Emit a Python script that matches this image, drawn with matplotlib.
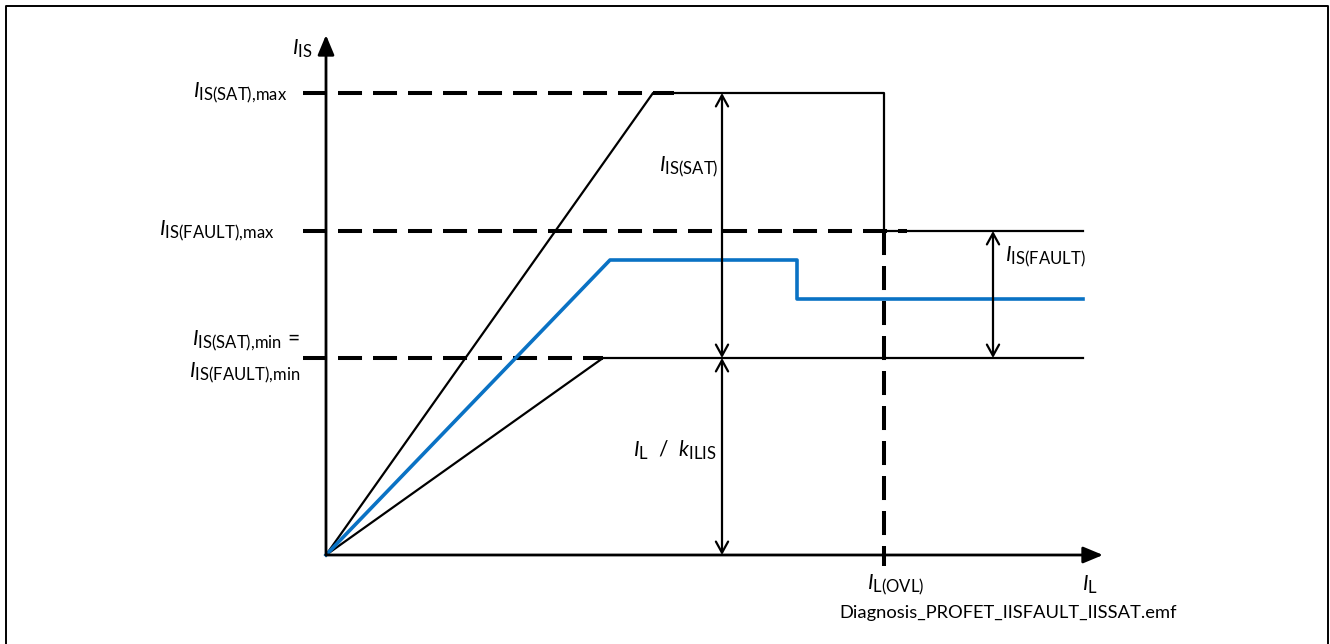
import matplotlib.pyplot as plt
from matplotlib.lines import Line2D
import matplotlib._mathtext as mathtext_internal

plt.rcParams['mathtext.fontset'] = 'custom'
plt.rcParams['mathtext.rm'] = 'Lato'
plt.rcParams['mathtext.it'] = 'Lato:italic'
plt.rcParams['font.family'] = ['Lato', 'DejaVu Sans']
plt.rcParams['lines.scale_dashes'] = False
# subscripts in the drawing are bigger than mathtext default
mathtext_internal.SHRINK_FACTOR = 0.8

# --------------------------
# DIAGRAM LEVELS (arbitrary units, origin at 0,0)
# --------------------------
sat_max = 4.62
fault_max = 3.24
blue_high = 2.95
blue_low = 2.56
is_min = 1.97

x_sat_knee = 3.27
x_ovl = 5.58
x_blue_knee = 2.84
x_blue_step = 4.71
x_min_knee = 2.77
x_end = 7.57

# traces
upper_x = [0, x_sat_knee, x_ovl, x_ovl, x_end]
upper_y = [0, sat_max, sat_max, fault_max, fault_max]
lower_x = [0, x_min_knee, x_end]
lower_y = [0, is_min, is_min]
blue_x = [0, x_blue_knee, x_blue_step, x_blue_step, x_end]
blue_y = [0, blue_high, blue_high, blue_low, blue_low]

# dashed reference levels: (level, end x)
dash_levels = [sat_max, fault_max, is_min]
dash_ends = [3.48, 5.81, x_min_knee]
dash_start = -0.23

x_arrow_sat = 3.96
x_arrow_fault = 6.67
x_axis_end = 7.77
y_axis_end = 5.20

fig = plt.figure(figsize=(13.3, 6.44), dpi=100)
ax = fig.add_axes([0, 0, 1, 1])
ax.set_xlim(-3.26, 10.04)
ax.set_ylim(-0.89, 5.55)
ax.axis('off')

# frame (no bottom edge)
fig.add_artist(Line2D([0.0043, 0.0043, 0.9985, 0.9985], [0.0, 0.9907, 0.9907, 0.0],
                      transform=fig.transFigure, color='black', lw=1.4))

dash_style = dict(color='black', lw=2.9, dashes=(17.3, 7.9))
for lvl, xe in zip(dash_levels, dash_ends):
    ax.plot([dash_start, xe], [lvl, lvl], **dash_style)
ax.plot([x_ovl, x_ovl], [fault_max, -0.11], **dash_style)

ax.plot(upper_x, upper_y, color='black', lw=1.6)
ax.plot(lower_x, lower_y, color='black', lw=1.6)
ax.plot(blue_x, blue_y, color='#0A72C4', lw=2.6)

# axes arrows
axis_arrow = dict(arrowstyle='-|>,head_length=0.6,head_width=0.25', color='black',
                  lw=2.0, shrinkA=0, shrinkB=0, mutation_scale=20)
ax.annotate('', xy=(0, y_axis_end), xytext=(0, 0), arrowprops=axis_arrow)
ax.annotate('', xy=(x_axis_end, 0), xytext=(0, 0), arrowprops=axis_arrow)

# dimension arrows
dim_arrow = dict(arrowstyle='<->,head_length=0.4,head_width=0.22', color='black',
                 lw=1.6, shrinkA=0, shrinkB=0, mutation_scale=20)
ax.annotate('', xy=(x_arrow_sat, sat_max), xytext=(x_arrow_sat, is_min), arrowprops=dim_arrow)
ax.annotate('', xy=(x_arrow_sat, is_min), xytext=(x_arrow_sat, 0), arrowprops=dim_arrow)
ax.annotate('', xy=(x_arrow_fault, fault_max), xytext=(x_arrow_fault, is_min), arrowprops=dim_arrow)

fs = 15
ax.text(-0.14, 5.06, r'$\mathit{I}_{\mathrm{IS}}$', fontsize=fs, ha='right', va='center')
ax.text(-0.39, sat_max, r'$\mathit{I}_{\mathrm{IS(SAT){,}max}}$', fontsize=fs, ha='right', va='center')
ax.text(-0.51, fault_max, r'$\mathit{I}_{\mathrm{IS(FAULT){,}max}}$', fontsize=fs, ha='right', va='center')
ax.text(-0.26, is_min + 0.17, r'$\mathit{I}_{\mathrm{IS(SAT){,}min}}$ =', fontsize=fs, ha='right', va='center')
ax.text(-0.26, is_min - 0.15, r'$\mathit{I}_{\mathrm{IS(FAULT){,}min}}$', fontsize=fs, ha='right', va='center')
ax.text(x_arrow_sat - 0.03, 3.88, r'$\mathit{I}_{\mathrm{IS(SAT)}}$', fontsize=fs, ha='right', va='center')
ax.text(x_arrow_fault + 0.12, 2.98, r'$\mathit{I}_{\mathrm{IS(FAULT)}}$', fontsize=fs, ha='left', va='center')
ax.text(x_arrow_sat - 0.05, 1.05, r'$\mathit{I}_{\mathrm{L}}$  /  $\mathit{k}_{\mathrm{ILIS}}$', fontsize=fs,
        ha='right', va='center')
ax.text(x_ovl + 0.12, -0.30, r'$\mathit{I}_{\mathrm{L(OVL)}}$', fontsize=fs, ha='center', va='center')
ax.text(7.64, -0.30, r'$\mathit{I}_{\mathrm{L}}$', fontsize=fs, ha='center', va='center')
ax.text(6.82, -0.58, 'Diagnosis_PROFET_IISFAULT_IISSAT.emf', fontsize=13.2, ha='center', va='center')

fig.savefig('out.png', dpi=100)
